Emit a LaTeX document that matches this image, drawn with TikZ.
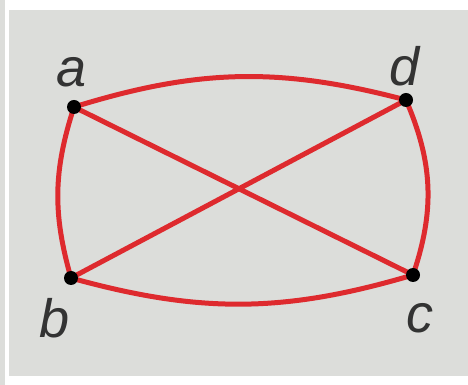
\documentclass[tikz,border=0pt]{standalone}
\usepackage{fontspec}
\setmainfont{Liberation Sans}
\usetikzlibrary{positioning,backgrounds}
\definecolor{edgered}{HTML}{DE2A2E}
\definecolor{paper}{HTML}{DCDDDA}
\tikzset{vtx/.style={circle,fill=black,inner sep=0pt,minimum size=14pt},edge/.style={draw=edgered,line width=5pt},lbl/.style={font=\fontsize{54}{60}\selectfont\itshape,text=black!80,inner sep=0pt}}

\begin{document}
\begin{tikzpicture}[x=1pt,y=1pt]
\useasboundingbox (0,0) rectangle (468,385);
\node[vtx] (a) at (74,278) {};
\node[vtx] (d) at (406,285) {};
\node[vtx] (b) at (71,107) {};
\node[vtx] (c) at (413,110) {};
\node[lbl] (la) at (72,313) {a};
\node[lbl] (ld) at (405,319) {d};
\node[lbl] (lb) at (55,67) {b};
\node[lbl] (lc) at (420,67) {c};
\begin{pgfonlayer}{background}
\fill[white] (0,0) rectangle (468,385);
\fill[paper] (0,0) rectangle (5,385);
\fill[paper] (9,9) rectangle (468,375);
\draw[edge] (a.center) to[bend left=16] (d.center);
\draw[edge] (b.center) to[bend left=17] (a.center);
\draw[edge] (c.center) to[bend right=21] (d.center);
\draw[edge] (b.center) to[bend right=16] (c.center);
\draw[edge] (a.center) -- (c.center);
\draw[edge] (b.center) -- (d.center);
\end{pgfonlayer}
\end{tikzpicture}
\end{document}
